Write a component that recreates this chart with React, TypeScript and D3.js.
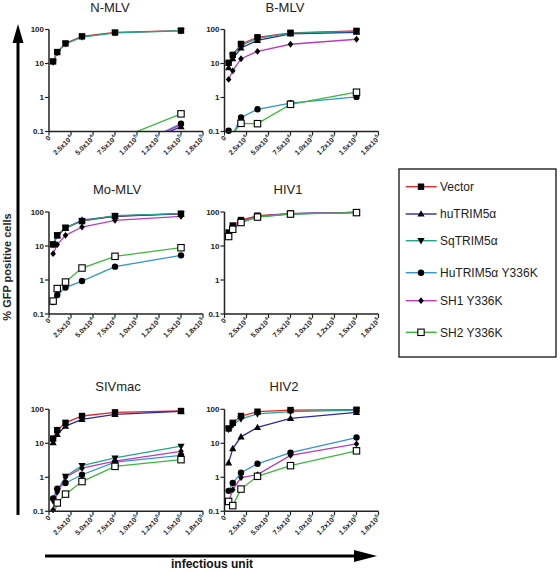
import React from "react";
import * as d3 from "d3";

const X_DOSES = [4687.5, 9375, 18750, 37500, 75000, 150000];
const SERIES = ["Vector", "huTRIM5α", "SqTRIM5α", "HuTRIM5α Y336K", "SH1 Y336K", "SH2 Y336K"];
const TITLES = ["N-MLV", "B-MLV", "Mo-MLV", "HIV1", "SIVmac", "HIV2"];

const N_MLV = [
  [11.5, 21.7, 39, 63, 81.5, 93],
  [0.01, 0.01, 0.01, 0.01, 0.02, 0.14],
  [11, 21, 38, 60, 80, 92],
  [0.01, 0.01, 0.01, 0.01, 0.02, 0.17],
  [0.01, 0.01, 0.01, 0.01, 0.02, 0.16],
  [0.01, 0.01, 0.01, 0.02, 0.055, 0.33],
];
const B_MLV = [
  [10.5, 18, 37.6, 59, 80, 91],
  [7.5, 13.8, 28.6, 48, 74, 83],
  [10, 17, 34, 55, 78, 88],
  [0.105, 0.08, 0.26, 0.45, 0.68, 1.04],
  [3.4, 6.1, 13.8, 22.7, 36.8, 51.6],
  [0.05, 0.085, 0.174, 0.17, 0.63, 1.43],
];
const MO_MLV = [
  [11.2, 20.6, 34.6, 54, 76, 89],
  [11, 20, 33, 58, 75, 88],
  [11, 21, 34, 55, 78, 90],
  [0.225, 0.363, 0.6, 0.93, 2.47, 5.3],
  [5.95, 11, 20.6, 36.2, 57, 74.6],
  [0.24, 0.56, 0.87, 2.25, 4.97, 8.9],
];
const HIV1 = [
  [25, 40, 58, 78, 90, 98],
  [20, 33, 52, 74, 88, 97],
  [19, 32, 50, 72, 88, 97],
  [21, 34, 52, 73, 89, 97],
  [20, 35, 53, 74, 89, 97],
  [19, 31, 49, 71, 87, 96],
];
const SIVMAC = [
  [13.8, 24.4, 40, 63.5, 81.5, 89],
  [10.5, 18.2, 32, 50.6, 71, 87],
  [0.2, 0.4, 1.06, 2.2, 3.7, 8.2],
  [0.24, 0.46, 0.68, 1.19, 2.8, 4.4],
  [0.11, 0.37, 1.0, 1.85, 3.0, 5.8],
  [0.07, 0.176, 0.32, 0.75, 2.1, 3.3],
];
const HIV2 = [
  [27.4, 40, 63.5, 85, 95, 97],
  [2.66, 7.0, 15.5, 29.3, 54.2, 81.6],
  [25.6, 34.5, 52, 73, 85, 95],
  [0.4, 0.68, 1.36, 2.5, 5.3, 14.8],
  [0.19, 0.43, 0.98, 1.2, 4.4, 9.6],
  [0.195, 0.147, 0.45, 1.07, 2.2, 6.0],
];
const PANEL_DATA = [N_MLV, B_MLV, MO_MLV, HIV1, SIVMAC, HIV2];

const X_TICKS = [0, 25000, 50000, 75000, 100000, 125000, 150000, 175000];
const X_TICK_MANTISSA = ["0", "2.5x10", "5.0x10", "7.5x10", "1.0x10", "1.2x10", "1.5x10", "1.8x10"];
const X_TICK_EXP = ["", "4", "4", "4", "5", "5", "5", "5"];
const Y_TICKS = [0.1, 1, 10, 100];
const Y_TICK_LABELS = ["0.1", "1", "10", "100"];

const COLORS = ["#e3262a", "#2a2aa8", "#22a58a", "#3196c8", "#b93cbd", "#3cb83c"];
const SHAPES = ["square", "triangle", "triangleDown", "circle", "diamond", "openSquare"];

const COL_X = [49, 224.5];
const ROW_Y = [29.5, 212, 409.3];
const TITLE_X = [110, 285, 117, 288, 118, 284];
const PW = 154;
const PH = 102;
const FONT = "'Liberation Sans', Arial, sans-serif";

function Marker({ shape, x, y }: { shape: string; x: number; y: number }) {
  const s = 3.2;
  switch (shape) {
    case "square":
      return <rect x={x - s} y={y - s} width={2 * s} height={2 * s} fill="#000" />;
    case "openSquare":
      return <rect x={x - s} y={y - s} width={2 * s} height={2 * s} fill="#fff" stroke="#000" strokeWidth={1.1} />;
    case "triangle":
      return <path d={`M${x},${y - 3.8}L${x + 3.6},${y + 2.6}L${x - 3.6},${y + 2.6}Z`} fill="#000" />;
    case "triangleDown":
      return <path d={`M${x},${y + 3.8}L${x + 3.6},${y - 2.6}L${x - 3.6},${y - 2.6}Z`} fill="#000" />;
    case "circle":
      return <circle cx={x} cy={y} r={3.2} fill="#000" />;
    case "diamond":
      return <path d={`M${x},${y - 3.4}L${x + 2.8},${y}L${x},${y + 3.4}L${x - 2.8},${y}Z`} fill="#000" />;
    default:
      return null;
  }
}

function Panel({ idx }: { idx: number }) {
  const x0 = COL_X[idx % 2];
  const y0 = ROW_Y[Math.floor(idx / 2)];
  const xs = d3.scaleLinear().domain([0, 175000]).range([x0, x0 + PW]);
  const ys = d3.scaleLog().domain([0.1, 100]).range([y0 + PH, y0]);
  const data = PANEL_DATA[idx];
  const clipId = `clip${idx}`;
  const line = d3
    .line<number>()
    .x((_, i) => xs(X_DOSES[i]))
    .y((d) => ys(d));
  const yb = y0 + PH;
  return (
    <g>
      <defs>
        <clipPath id={clipId}>
          <rect x={x0} y={y0 - 10} width={PW + 10} height={PH + 10} />
        </clipPath>
      </defs>
      <text x={TITLE_X[idx]} y={y0 - 18} fontSize={13} textAnchor="middle" fontFamily={FONT} fill="#222">
        {TITLES[idx]}
      </text>
      <g clipPath={`url(#${clipId})`}>
        {data.map((ser, si) => (
          <path key={si} d={line(ser) || ""} fill="none" stroke={COLORS[si]} strokeWidth={1.3} />
        ))}
      </g>
      {data.map((ser, si) =>
        ser.map((v, i) =>
          v >= 0.095 ? <Marker key={`${si}-${i}`} shape={SHAPES[si]} x={xs(X_DOSES[i])} y={ys(v)} /> : null
        )
      )}
      <line x1={x0} x2={x0} y1={y0} y2={yb} stroke="#222" strokeWidth={1.5} />
      <line x1={x0} x2={x0 + PW} y1={yb} y2={yb} stroke="#222" strokeWidth={1.5} />
      {Y_TICKS.map((t, i) => (
        <g key={i}>
          <line x1={x0 - 4} x2={x0} y1={ys(t)} y2={ys(t)} stroke="#222" strokeWidth={1.2} />
          <text x={x0 - 5} y={ys(t) + 2.8} fontSize={8} fontWeight="bold" textAnchor="end" fontFamily={FONT} fill="#222">
            {Y_TICK_LABELS[i]}
          </text>
        </g>
      ))}
      {X_TICKS.map((t, i) => (
        <g key={i}>
          <line x1={xs(t)} x2={xs(t)} y1={yb} y2={yb + 4} stroke="#222" strokeWidth={1.2} />
          <text
            transform={`translate(${xs(t) + 2},${yb + 7}) rotate(-45)`}
            fontSize={7}
            fontWeight="bold"
            textAnchor="end"
            fontFamily={FONT}
            fill="#222"
          >
            {X_TICK_MANTISSA[i]}
            {X_TICK_EXP[i] && (
              <tspan fontSize={5} dy={-3}>
                {X_TICK_EXP[i]}
              </tspan>
            )}
          </text>
        </g>
      ))}
    </g>
  );
}

const LEGEND_Y = [186.7, 214, 240.7, 272.7, 300.7, 332.3];

export default function App() {
  return (
    <svg
      width={560}
      height={571}
      style={{ position: "absolute", left: 0, top: 0, background: "#fff" }}
    >
      <rect width={560} height={571} fill="#fff" />
      {TITLES.map((_, i) => (
        <Panel key={i} idx={i} />
      ))}
      {/* vertical arrow */}
      <line x1={18} x2={18} y1={515} y2={40} stroke="#000" strokeWidth={3} />
      <path d="M18,24L12.5,43L23.5,43Z" fill="#000" />
      <text
        transform="translate(11,267) rotate(-90)"
        fontSize={11}
        fontWeight="bold"
        textAnchor="middle"
        fontFamily={FONT}
        fill="#222"
      >
        % GFP positive cells
      </text>
      {/* horizontal arrow */}
      <line x1={45} x2={356} y1={556} y2={556} stroke="#000" strokeWidth={3} />
      <path d="M377,556L354,550L354,562Z" fill="#000" />
      <text x={212} y={567.5} fontSize={12} fontWeight="bold" textAnchor="middle" fontFamily={FONT} fill="#111">
        infectious unit
      </text>
      {/* legend */}
      <rect x={399} y={169} width={157} height={188} fill="#fff" stroke="#111" strokeWidth={1.3} />
      {SERIES.map((s, i) => (
        <g key={i}>
          <line x1={405.7} x2={436.7} y1={LEGEND_Y[i]} y2={LEGEND_Y[i]} stroke={COLORS[i]} strokeWidth={1.4} />
          <Marker shape={SHAPES[i]} x={421} y={LEGEND_Y[i]} />
          <text x={440} y={LEGEND_Y[i] + 4.3} fontSize={12} fontFamily={FONT} fill="#222">
            {s}
          </text>
        </g>
      ))}
    </svg>
  );
}
